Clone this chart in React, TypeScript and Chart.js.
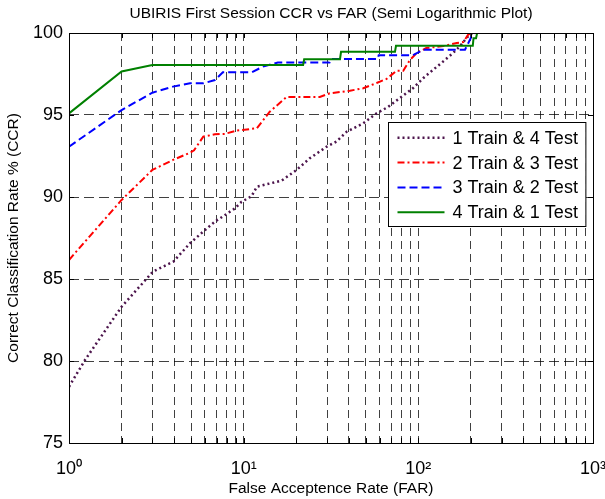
import React, { useEffect, useRef } from 'react';
import { Chart, registerables } from 'chart.js';

Chart.register(...registerables);

const FONT = '"Liberation Sans", Arial, Helvetica, sans-serif';

const TITLE = 'UBIRIS First Session CCR vs FAR (Semi Logarithmic Plot)';
const X_TITLE = 'False Acceptence Rate (FAR)';
const Y_TITLE = 'Correct Classification Rate % (CCR)';
const SERIES_LABELS = ['1 Train & 4 Test', '2 Train & 3 Test', '3 Train & 2 Test', '4 Train & 1 Test'];

const X_DECADES = [1, 10, 100, 1000];
const X_DECADE_LABELS = ['10⁰', '10¹', '10²', '10³'];
const X_MINOR_MULT = [2, 3, 4, 5, 6, 7, 8, 9];
const Y_TICKS = [75, 80, 85, 90, 95, 100];

// 1 Train & 4 Test
const far1 = [1, 1.235, 2, 2.85, 3.02, 3.96, 4.93, 5.87, 6.85, 7.82, 8.92, 9.7, 11.1, 11.9, 16.5, 20.1, 23.9, 29.9, 34, 38.9, 48.4, 57.7, 67.3, 78.5, 93.5, 107, 122, 139, 158, 173, 189, 197, 205];
const ccr1 = [78.43, 80.06, 83.31, 85.14, 85.45, 86.06, 87.18, 87.89, 88.5, 88.9, 89.31, 89.7, 90.05, 90.63, 91.0, 91.65, 92.36, 93.07, 93.38, 93.98, 94.49, 95.1, 95.5, 96.04, 96.65, 97.26, 97.77, 98.27, 98.78, 99.19, 99.7, 99.9, 100];

// 2 Train & 3 Test
const far2 = [1, 2, 3, 3.94, 4.93, 5.2, 5.87, 6.85, 7.82, 9.12, 11.9, 14.1, 17.6, 27.3, 31.1, 40.6, 48.4, 57.7, 65.8, 75, 82, 89.5, 97.8, 111, 139, 166, 181, 193, 202];
const ccr2 = [86.16, 89.82, 91.65, 92.26, 92.7, 92.85, 93.68, 93.82, 93.85, 94.05, 94.19, 95.2, 96.1, 96.1, 96.32, 96.48, 96.63, 96.95, 97.2, 97.7, 97.7, 98.35, 98.78, 99.08, 99.2, 99.39, 99.45, 99.9, 100];

// 3 Train & 2 Test
const far3 = [1, 2, 3, 3.94, 4.93, 5.87, 6.85, 7.6, 11.1, 12.9, 15.7, 31, 31.6, 58.5, 59.3, 93, 107, 185, 202, 210];
const ccr3 = [93.07, 95.3, 96.36, 96.73, 96.93, 96.93, 97.13, 97.6, 97.6, 97.95, 98.2, 98.2, 98.41, 98.41, 98.64, 98.64, 98.98, 98.98, 99.8, 100];

// 4 Train & 1 Test
const far4 = [1, 2, 3, 21.9, 22.2, 35.6, 36.1, 73.5, 74.5, 205, 207, 214, 217];
const ccr4 = [95.1, 97.65, 98.05, 98.05, 98.4, 98.4, 98.85, 98.85, 99.22, 99.22, 99.68, 99.68, 100];

const toPoints = (xs: number[], ys: number[]) => xs.map((x, i) => ({ x, y: ys[i] }));

const framePlugin = {
  id: 'frame',
  afterDraw(chart: any) {
    const { ctx, chartArea: a, scales } = chart;
    ctx.save();
    ctx.strokeStyle = '#000';
    ctx.lineWidth = 1;
    ctx.setLineDash([]);
    ctx.strokeRect(Math.round(a.left) + 0.5, Math.round(a.top) + 0.5, Math.round(a.right - a.left), Math.round(a.bottom - a.top));
    const tl = 5;
    ctx.beginPath();
    scales.x.ticks.forEach((t: any) => {
      const px = Math.round(scales.x.getPixelForValue(t.value)) + 0.5;
      ctx.moveTo(px, a.bottom); ctx.lineTo(px, a.bottom - tl);
      ctx.moveTo(px, a.top); ctx.lineTo(px, a.top + tl);
    });
    scales.y.ticks.forEach((t: any) => {
      const py = Math.round(scales.y.getPixelForValue(t.value)) + 0.5;
      ctx.moveTo(a.left, py); ctx.lineTo(a.left + tl, py);
      ctx.moveTo(a.right, py); ctx.lineTo(a.right - tl, py);
    });
    ctx.stroke();
    ctx.restore();
  },
};

const legendPlugin = {
  id: 'boxLegend',
  afterDraw(chart: any) {
    const { ctx, chartArea: a } = chart;
    const ds = chart.data.datasets;
    ctx.save();
    ctx.font = `18px ${FONT}`;
    const textW = Math.max(...ds.map((d: any) => ctx.measureText(d.label).width));
    const padL = 9, sampleW = 47, gap = 8, padR = 8;
    const rowH = 24.8;
    const w = padL + sampleW + gap + textW + padR;
    const h = 104;
    const x = Math.round(a.right - 8 - w) + 0.5;
    const y = Math.round(a.top + 89) + 0.5;
    ctx.fillStyle = '#fff';
    ctx.fillRect(x, y, w, h);
    ctx.strokeStyle = '#000';
    ctx.lineWidth = 1;
    ctx.setLineDash([]);
    ctx.strokeRect(x, y, w, h);
    ds.forEach((d: any, i: number) => {
      const cy = y + 15.3 + i * rowH;
      ctx.save();
      ctx.strokeStyle = d.borderColor;
      ctx.lineWidth = d.borderWidth;
      ctx.setLineDash(d.borderDash || []);
      ctx.beginPath();
      ctx.moveTo(x + padL, cy);
      ctx.lineTo(x + padL + sampleW, cy);
      ctx.stroke();
      ctx.restore();
      ctx.fillStyle = '#000';
      ctx.textBaseline = 'middle';
      ctx.textAlign = 'left';
      ctx.fillText(d.label, x + padL + sampleW + gap, cy + 1);
    });
    ctx.restore();
  },
};

export default function App() {
  const ref = useRef<HTMLCanvasElement>(null);

  useEffect(() => {
    if (!ref.current) return;
    Chart.defaults.font.family = FONT;
    Chart.defaults.color = '#000';

    const xTickValues: number[] = [];
    X_DECADES.forEach((d, i) => {
      xTickValues.push(d);
      if (i < X_DECADES.length - 1) X_MINOR_MULT.forEach((m) => xTickValues.push(d * m));
    });

    const common = { pointRadius: 0, tension: 0, fill: false };
    const chart = new Chart(ref.current, {
      type: 'line',
      data: {
        datasets: [
          { ...common, label: SERIES_LABELS[0], data: toPoints(far1, ccr1), borderColor: 'rgb(76,20,76)', borderWidth: 2.5, borderDash: [2, 3], order: 3 },
          { ...common, label: SERIES_LABELS[1], data: toPoints(far2, ccr2), borderColor: '#ff0000', borderWidth: 2, borderDash: [7, 3, 2, 3], order: 2 },
          { ...common, label: SERIES_LABELS[2], data: toPoints(far3, ccr3), borderColor: '#0000ff', borderWidth: 2, borderDash: [8, 4], order: 1 },
          { ...common, label: SERIES_LABELS[3], data: toPoints(far4, ccr4), borderColor: '#008000', borderWidth: 2, borderDash: [], order: 0 },
        ],
      },
      options: {
        animation: false,
        responsive: false,
        devicePixelRatio: 1,
        layout: { padding: 0 },
        plugins: {
          legend: { display: false },
          tooltip: { enabled: false },
          title: {
            display: true,
            text: TITLE,
            fullSize: false,
            font: { size: 15.5, weight: 'normal' },
            color: '#000',
            padding: { top: 4, bottom: 10.4 },
          },
        },
        scales: {
          x: {
            type: 'logarithmic',
            min: 1,
            max: 1000,
            afterBuildTicks: (scale: any) => {
              scale.ticks = xTickValues.map((v) => ({ value: v }));
            },
            afterFit: (scale: any) => {
              scale.height = 56;
              scale.paddingRight = 12;
              scale.paddingLeft = 0;
            },
            ticks: {
              autoSkip: false,
              maxRotation: 0,
              font: { size: 18 },
              padding: 15,
              callback: (value: any) => {
                const idx = X_DECADES.indexOf(Number(value));
                return idx >= 0 ? X_DECADE_LABELS[idx] : '';
              },
            },
            grid: { color: 'rgba(0,0,0,0.75)', lineWidth: 1, drawTicks: false },
            border: { display: false, dash: [8, 5] },
            title: { display: true, text: X_TITLE, font: { size: 15.5 }, padding: { top: 0, bottom: 1 } },
          },
          y: {
            type: 'linear',
            min: 75,
            max: 100,
            afterBuildTicks: (scale: any) => {
              scale.ticks = Y_TICKS.map((v) => ({ value: v }));
            },
            afterFit: (scale: any) => { scale.width = 69; },
            ticks: { font: { size: 18 }, padding: 6 },
            grid: { color: 'rgba(0,0,0,0.75)', lineWidth: 1, drawTicks: false },
            border: { display: false, dash: [10, 5] },
            title: { display: true, text: Y_TITLE, font: { size: 15.5 }, padding: { top: 4, bottom: 0 } },
          },
        },
      },
      plugins: [framePlugin, legendPlugin],
    } as any);
    return () => chart.destroy();
  }, []);

  return (
    <div style={{ position: 'absolute', left: 0, top: 0, width: 605, height: 499, background: '#fff' }}>
      <canvas ref={ref} width={605} height={499} style={{ display: 'block' }} />
    </div>
  );
}
